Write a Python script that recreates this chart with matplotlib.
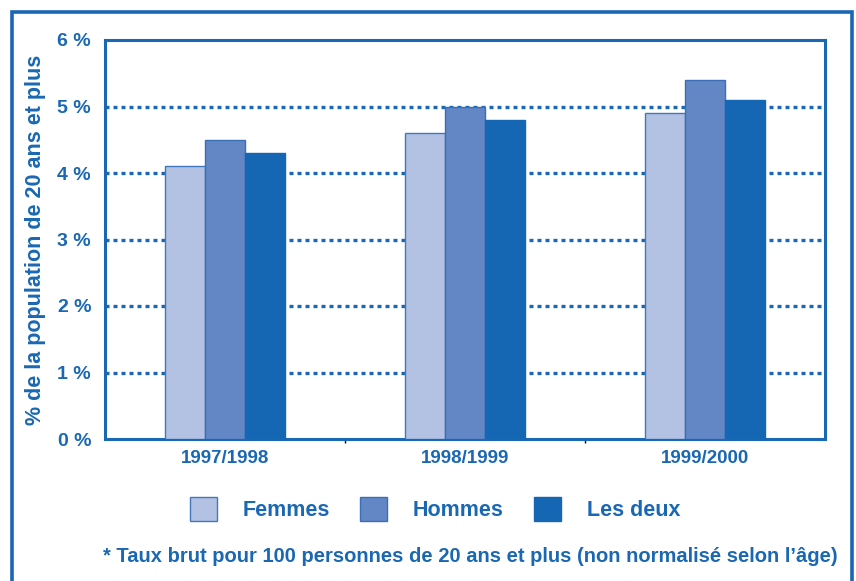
import matplotlib
matplotlib.use("Agg")
import matplotlib.pyplot as plt
from matplotlib.patches import Rectangle, Patch
import numpy as np

plt.rcParams['font.family'] = ['Liberation Sans', 'DejaVu Sans']
plt.rcParams['font.weight'] = 'bold'

categories = ["1997/1998", "1998/1999", "1999/2000"]
series_names = ["Femmes", "Hommes", "Les deux"]
femmes = [4.1, 4.6, 4.9]
hommes = [4.5, 5.0, 5.4]
les_deux = [4.3, 4.8, 5.1]
yticks = [0, 1, 2, 3, 4, 5, 6]
ytick_labels = ["0 %", "1 %", "2 %", "3 %", "4 %", "5 %", "6 %"]
ylabel = "% de la population de 20 ans et plus"
footnote = "* Taux brut pour 100 personnes de 20 ans et plus (non normalisé selon l\u2019âge)"

blue = "#1a68b3"
fills = ["#b3c2e3", "#6387c5", "#1667b3"]
edges = ["#3f78bd", "#3a6fb8", "#1667b3"]

W, H = 856, 581
fig = plt.figure(figsize=(W / 100, H / 100), dpi=100)
ax = fig.add_axes([105 / W, 1 - 439 / H, 720 / W, 399 / H])

x = np.arange(len(categories)) + 0.5
bw = 1 / 6
for i, vals in enumerate([femmes, hommes, les_deux]):
    ax.bar(x + (i - 1) * bw, vals, width=bw, color=fills[i], edgecolor=edges[i],
           linewidth=1.0, zorder=3, label=series_names[i])

ax.set_xlim(0, 3)
ax.set_ylim(0, 6)
ax.set_yticks(yticks)
ax.set_yticklabels(ytick_labels)
ax.set_xticks(x)
ax.set_xticklabels(categories)
ax.set_xticks([1, 2], minor=True)
ax.tick_params(axis='x', which='major', length=0, pad=8, labelsize=13.5, labelcolor=blue)
ax.tick_params(axis='x', which='minor', length=3, width=1, color='black', direction='out')
ax.tick_params(axis='y', length=0, pad=10, labelsize=14, labelcolor=blue)
for lbl in ax.get_xticklabels() + ax.get_yticklabels():
    lbl.set_fontweight('bold')

for yv in [1, 2, 3, 4, 5]:
    ax.axhline(yv, color=blue, linestyle=(0, (1.2, 1.2)), linewidth=2.4, zorder=1)

for s in ax.spines.values():
    s.set_color(blue)
    s.set_linewidth(2.2)

ax.set_ylabel(ylabel, fontsize=15.5, fontweight='bold', color=blue)
ax.yaxis.set_label_coords(-(105 - 36) / 720, 0.5)
ax.yaxis.label.set_va('center')

# legend
handles = [Patch(facecolor=fills[i], edgecolor=edges[i], linewidth=1.0) for i in range(3)]
leg = fig.legend(handles, series_names, loc='center', bbox_to_anchor=(435 / W, 1 - 509 / H),
                 ncol=3, frameon=False, handlelength=1.25, handleheight=1.35,
                 handletextpad=1.2, columnspacing=1.4,
                 prop={'family': 'Liberation Sans', 'weight': 'bold', 'size': 15.5})
for t in leg.get_texts():
    t.set_color(blue)

fig.text(103 / W, 1 - 557 / H, footnote, fontsize=14.5, fontweight='bold', color=blue,
         ha='left', va='center')

# outer frame
fig.add_artist(Rectangle((12 / W, -0.05), (852 - 12) / W, 1.05 - 12 / H,
                         transform=fig.transFigure, fill=False, edgecolor=blue, linewidth=2.6))

fig.savefig("out.png", dpi=100)
